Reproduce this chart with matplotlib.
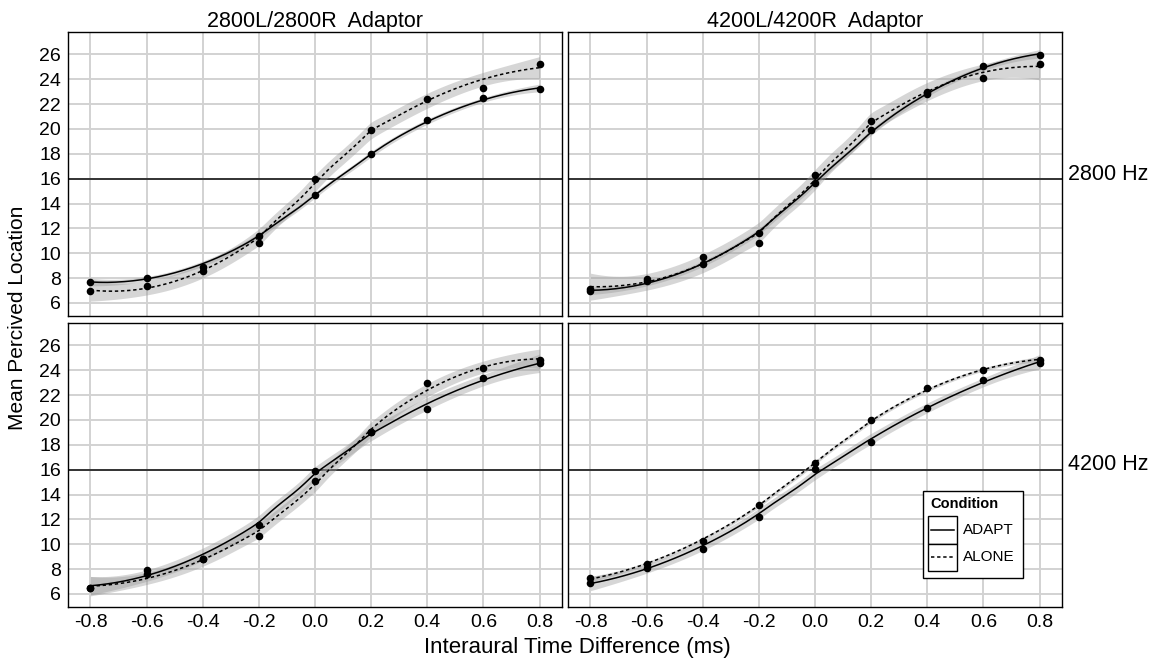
"""Perceived location vs interaural time difference, faceted by adaptor and probe."""

import matplotlib
matplotlib.use("Agg")
from matplotlib import pyplot as plt
from matplotlib.lines import Line2D
from matplotlib.patches import Rectangle
import numpy as np

plt.rcParams["font.family"] = ["Liberation Sans", "DejaVu Sans"]

itd = [-0.8, -0.6, -0.4, -0.2, 0.0, 0.2, 0.4, 0.6, 0.8]
adaptors = ["2800L/2800R  Adaptor", "4200L/4200R  Adaptor"]
probes = ["2800 Hz", "4200 Hz"]
conditions = ["ADAPT", "ALONE"]

# mean perceived location, [probe][adaptor]
adapt_2800_2800 = [7.7, 8.0, 8.9, 11.4, 14.7, 18.0, 20.7, 22.5, 23.2]
alone_2800_2800 = [6.95, 7.4, 8.6, 10.8, 15.95, 19.9, 22.4, 23.3, 25.25]
adapt_2800_4200 = [6.95, 7.75, 9.1, 11.6, 15.65, 19.95, 22.8, 25.1, 25.95]
alone_2800_4200 = [7.15, 7.9, 9.7, 10.8, 16.3, 20.6, 23.0, 24.1, 25.25]
adapt_4200_2800 = [6.5, 7.95, 8.8, 11.55, 15.9, 19.05, 20.9, 23.35, 24.55]
alone_4200_2800 = [6.45, 7.6, 8.85, 10.7, 15.1, 19.0, 22.95, 24.2, 24.85]
adapt_4200_4200 = [6.85, 8.1, 9.65, 12.2, 16.05, 18.2, 21.0, 23.2, 24.6]
alone_4200_4200 = [7.25, 8.4, 10.25, 13.15, 16.5, 20.0, 22.55, 24.05, 24.85]

series = {
    (0, 0): (adapt_2800_2800, alone_2800_2800),
    (0, 1): (adapt_2800_4200, alone_2800_4200),
    (1, 0): (adapt_4200_2800, alone_4200_2800),
    (1, 1): (adapt_4200_4200, alone_4200_4200),
}

styles = {"ADAPT": "-", "ALONE": (0, (2.2, 1.8))}


def loess_weights(x, x0, span=0.8):
    """Row vector l such that yhat(x0) = l @ y for local quadratic loess."""
    n = len(x)
    q = int(np.floor(n * span))
    d = np.abs(x - x0)
    h = np.sort(d)[q - 1] * 1.05
    w = np.clip(1 - (d / h) ** 3, 0, None) ** 3
    X = np.column_stack([np.ones(n), x - x0, (x - x0) ** 2])
    XtW = X.T * w
    return np.linalg.solve(XtW @ X, XtW)[0]


def loess_fit(x, y, xs, t=1.9):
    x = np.asarray(x, float)
    y = np.asarray(y, float)
    L = np.array([loess_weights(x, xi) for xi in x])
    resid = y - L @ y
    ImL = np.eye(len(x)) - L
    sigma = np.sqrt(np.sum(resid ** 2) / np.trace(ImL.T @ ImL))
    ls = np.array([loess_weights(x, xi) for xi in xs])
    fit = ls @ y
    se = sigma * np.linalg.norm(ls, axis=1)
    return fit, fit - t * se, fit + t * se


W, H = 1158, 663
fig = plt.figure(figsize=(W / 100, H / 100), dpi=100)

lefts = [68, 568]
tops = [32, 323]
pw, ph = 494, 284

xs = np.linspace(-0.8, 0.8, 160)

for r in range(2):
    for c in range(2):
        ax = fig.add_axes([lefts[c] / W, 1 - (tops[r] + ph) / H, pw / W, ph / H])
        ax.set_xlim(-0.88, 0.88)
        ax.set_ylim(4.95, 27.8)
        ax.set_xticks(itd)
        ax.set_yticks(range(6, 27, 2))
        ax.grid(True, color="#d2d2d2", lw=1.4)
        ax.set_axisbelow(True)
        for s in ax.spines.values():
            s.set_color("black")
            s.set_linewidth(1.0)
        ax.tick_params(length=0, labelsize=14, pad=5)
        if c == 1:
            ax.set_yticklabels([])
        if r == 0:
            ax.set_xticklabels([])
            ax.set_title(adaptors[c], fontsize=15.5, pad=3)
        else:
            ax.set_xticklabels([f"{v:.1f}" for v in itd])
        if c == 1:
            ax.text(1.012, 0.5, probes[r], transform=ax.transAxes,
                    fontsize=15.5, va="center", ha="left")

        ax.axhline(16, color="#333333", lw=1.4, zorder=2)

        for cond, yv in zip(conditions, series[(r, c)]):
            fit, lo, hi = loess_fit(itd, yv, xs)
            ax.fill_between(xs, lo, hi, color="#999999", alpha=0.4, lw=0, zorder=3)
            ax.plot(xs, fit, color="black", lw=1.1, ls=styles[cond], zorder=4)
            ax.scatter(itd, yv, s=30, color="black", zorder=5, lw=0)

fig.text(577 / W, 1 - 647 / H, "Interaural Time Difference (ms)",
         ha="center", va="center", fontsize=16)
fig.text(18 / W, 1 - 318 / H, "Mean Percived Location", rotation=90,
         ha="center", va="center", fontsize=15)


# legend box drawn in figure pixels
def fx(px):
    return px / W


def fy(py):
    return 1 - py / H


fig.add_artist(Rectangle((fx(923), fy(578)), fx(1023) - fx(923), fy(491) - fy(578),
                         transform=fig.transFigure, fc="white", ec="black", lw=1.0, zorder=10))
fig.text(fx(930), fy(504), "Condition", fontsize=10.5, fontweight="bold",
         ha="left", va="center", zorder=11)
for i, cond in enumerate(conditions):
    y0 = 516 + i * 27.5
    fig.add_artist(Rectangle((fx(928), fy(y0 + 27.5)), fx(957) - fx(928), fy(y0) - fy(y0 + 27.5),
                             transform=fig.transFigure, fc="white", ec="black", lw=1.0, zorder=11))
    fig.add_artist(Line2D([fx(931), fx(954)], [fy(y0 + 13.75)] * 2, transform=fig.transFigure,
                          color="black", lw=1.1, ls=styles[cond], zorder=12))
    fig.text(fx(963), fy(y0 + 13.75), cond, fontsize=11, ha="left", va="center", zorder=12)

fig.savefig("out.png", dpi=100, facecolor="white")
